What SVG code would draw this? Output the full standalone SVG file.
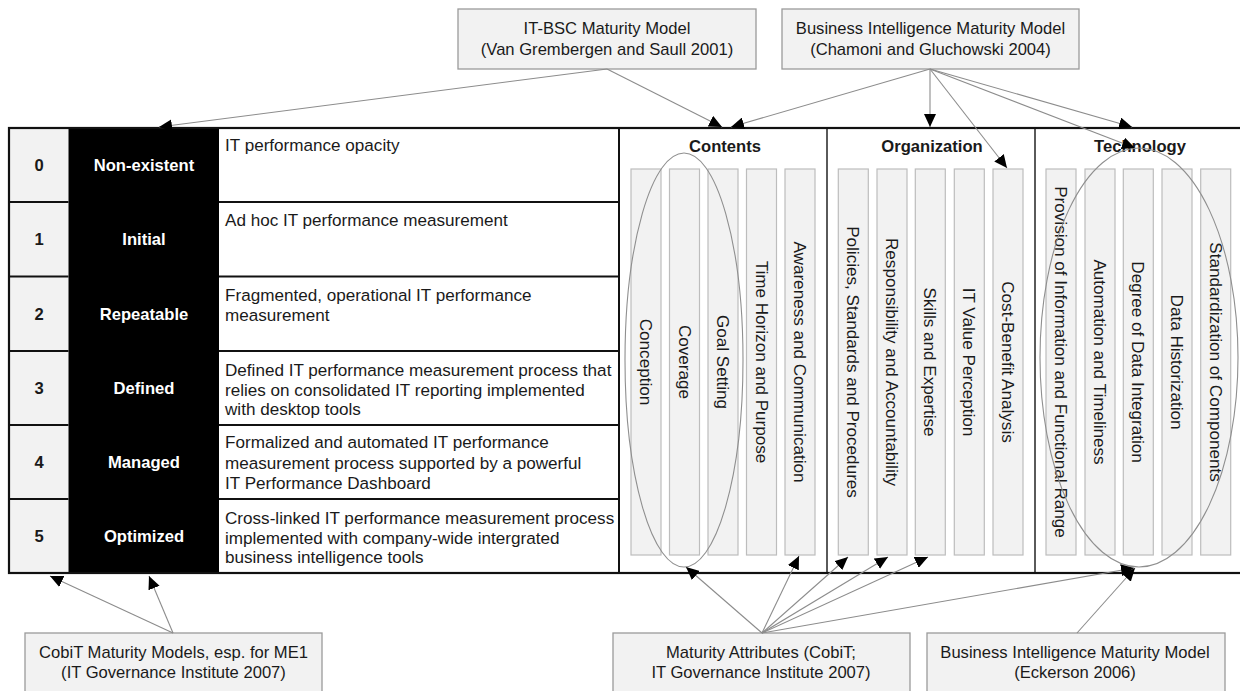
<svg xmlns="http://www.w3.org/2000/svg" width="1240" height="691" viewBox="0 0 1240 691">
<style>
text{font-family:"Liberation Sans",Arial,sans-serif;font-size:16.6px;fill:#1a1a1a}
.b{font-weight:bold}
.w{fill:#ffffff;font-weight:bold}
.c{text-anchor:middle}
.d{font-size:17.1px}
.box{fill:#f2f2f2;stroke:#9a9a9a;stroke-width:1.3}
.col{fill:#f2f2f2;stroke:#bdbdbd;stroke-width:1.2}
.ell{fill:none;stroke:#8f8f8f;stroke-width:1.1}
.rl{stroke:#111;stroke-width:1.8}
.sec{stroke:#5a5a5a;stroke-width:2}
.con line{stroke:#8c8c8c;stroke-width:1.1;marker-end:url(#ah)}
</style>
<defs>
<marker id="ah" markerUnits="userSpaceOnUse" markerWidth="14" markerHeight="12" refX="13" refY="6" orient="auto" viewBox="0 0 14 12">
<path d="M0,0 L13,6 L0,12 z" fill="#000"/>
</marker>
</defs>
<rect width="1240" height="691" fill="#ffffff"/>

<g id="maturity-table">
<rect x="9" y="128" width="1240" height="445" fill="#ffffff"/>
<rect x="9" y="128" width="59.5" height="445" fill="#f2f2f2"/>
<rect x="68.5" y="128" width="150.5" height="445" fill="#000000"/>
<line class="rl" x1="9" y1="202" x2="68.5" y2="202"/>
<line class="rl" x1="9" y1="276.5" x2="68.5" y2="276.5"/>
<line class="rl" x1="9" y1="351" x2="68.5" y2="351"/>
<line class="rl" x1="9" y1="425" x2="68.5" y2="425"/>
<line class="rl" x1="9" y1="499" x2="68.5" y2="499"/>
<line class="rl" x1="219" y1="202" x2="619" y2="202"/>
<line class="rl" x1="219" y1="276.5" x2="619" y2="276.5"/>
<line class="rl" x1="219" y1="351" x2="619" y2="351"/>
<line class="rl" x1="219" y1="425" x2="619" y2="425"/>
<line class="rl" x1="219" y1="499" x2="619" y2="499"/>
<line x1="619" y1="128" x2="619" y2="573" stroke="#111" stroke-width="2"/>
<line class="sec" x1="827" y1="128" x2="827" y2="573"/>
<line class="sec" x1="1035" y1="128" x2="1035" y2="573"/>
<rect x="9" y="128" width="1240" height="445" fill="none" stroke="#111" stroke-width="2.2"/>

<text class="b c" x="39" y="171">0</text>
<text class="b c" x="39" y="245">1</text>
<text class="b c" x="39" y="320">2</text>
<text class="b c" x="39" y="394">3</text>
<text class="b c" x="39" y="468">4</text>
<text class="b c" x="39" y="542">5</text>

<text class="w c" x="144" y="171">Non-existent</text>
<text class="w c" x="144" y="245">Initial</text>
<text class="w c" x="144" y="320">Repeatable</text>
<text class="w c" x="144" y="394">Defined</text>
<text class="w c" x="144" y="468">Managed</text>
<text class="w c" x="144" y="542">Optimized</text>

<text class="d" x="225" y="151">IT performance opacity</text>
<text class="d" x="225" y="226">Ad hoc IT performance measurement</text>
<text class="d" x="225" y="301">Fragmented, operational IT performance</text>
<text class="d" x="225" y="321">measurement</text>
<text class="d" x="225" y="376">Defined IT performance measurement process that</text>
<text class="d" x="225" y="395.5">relies on consolidated IT reporting implemented</text>
<text class="d" x="225" y="415">with desktop tools</text>
<text class="d" x="225" y="448">Formalized and automated IT performance</text>
<text class="d" x="225" y="468.5">measurement process supported by a powerful</text>
<text class="d" x="225" y="489">IT Performance Dashboard</text>
<text class="d" x="225" y="524">Cross-linked IT performance measurement process</text>
<text class="d" x="225" y="543.5">implemented with company-wide intergrated</text>
<text class="d" x="225" y="563">business intelligence tools</text>
</g>

<g id="contents">
<text class="b c" x="725" y="152" font-size="17">Contents</text>
<rect class="col" x="631" y="169" width="30" height="386"/>
<rect class="col" x="669.5" y="169" width="30" height="386"/>
<rect class="col" x="708" y="169" width="30" height="386"/>
<rect class="col" x="746.5" y="169" width="30" height="386"/>
<rect class="col" x="785" y="169" width="30" height="386"/>
<text class="c d" transform="translate(646,362) rotate(90)" y="6">Conception</text>
<text class="c d" transform="translate(684.5,362) rotate(90)" y="6">Coverage</text>
<text class="c d" transform="translate(723,362) rotate(90)" y="6">Goal Setting</text>
<text class="c d" transform="translate(761.5,362) rotate(90)" y="6">Time Horizon and Purpose</text>
<text class="c d" transform="translate(800,362) rotate(90)" y="6">Awareness and Communication</text>
<ellipse class="ell" cx="684" cy="360" rx="59" ry="207"/>
</g>

<g id="organization">
<text class="b c" x="932" y="152" font-size="17">Organization</text>
<rect class="col" x="838.3" y="169" width="30" height="386"/>
<rect class="col" x="877" y="169" width="30" height="386"/>
<rect class="col" x="915.3" y="169" width="30" height="386"/>
<rect class="col" x="954.3" y="169" width="30" height="386"/>
<rect class="col" x="993" y="169" width="30" height="386"/>
<text class="c d" transform="translate(853.3,362) rotate(90)" y="6">Policies, Standards and Procedures</text>
<text class="c d" transform="translate(892,362) rotate(90)" y="6">Responsibility and Accountability</text>
<text class="c d" transform="translate(930.3,362) rotate(90)" y="6">Skills and Expertise</text>
<text class="c d" transform="translate(969.3,362) rotate(90)" y="6">IT Value Perception</text>
<text class="c d" transform="translate(1008,362) rotate(90)" y="6">Cost-Benefit Analysis</text>
</g>

<g id="technology">
<text class="b c" x="1140" y="152" font-size="17">Technology</text>
<rect class="col" x="1046" y="169" width="30" height="386"/>
<rect class="col" x="1085" y="169" width="30" height="386"/>
<rect class="col" x="1123.3" y="169" width="30" height="386"/>
<rect class="col" x="1162" y="169" width="30" height="386"/>
<rect class="col" x="1200.7" y="169" width="30" height="386"/>
<text class="c d" transform="translate(1061,362) rotate(90)" y="6">Provision of Information and Functional Range</text>
<text class="c d" transform="translate(1100,362) rotate(90)" y="6">Automation and Timeliness</text>
<text class="c d" transform="translate(1138.3,362) rotate(90)" y="6">Degree of Data Integration</text>
<text class="c d" transform="translate(1177,362) rotate(90)" y="6">Data Historization</text>
<text class="c d" transform="translate(1215.7,362) rotate(90)" y="6">Standardization of Components</text>
<ellipse class="ell" cx="1139" cy="357.5" rx="99" ry="209.5"/>
</g>

<g id="it-bsc">
<rect class="box" x="458" y="9" width="298" height="60"/>
<text class="c" x="607" y="34">IT-BSC Maturity Model</text>
<text class="c" x="607" y="55">(Van Grembergen and Saull 2001)</text>
</g>

<g id="bi-chamoni">
<rect class="box" x="782" y="9" width="297" height="60"/>
<text class="c" x="930.5" y="34">Business Intelligence Maturity Model</text>
<text class="c" x="930.5" y="55">(Chamoni and Gluchowski 2004)</text>
</g>

<g id="cobit">
<rect class="box" x="25" y="633" width="297" height="70"/>
<text class="c" x="173.5" y="658">CobiT Maturity Models, esp. for ME1</text>
<text class="c" x="173.5" y="678">(IT Governance Institute 2007)</text>
</g>

<g id="maturity-attributes">
<rect class="box" x="613" y="633" width="297" height="70"/>
<text class="c" x="761" y="658">Maturity Attributes (CobiT;</text>
<text class="c" x="761" y="678">IT Governance Institute 2007)</text>
</g>

<g id="bi-eckerson">
<rect class="box" x="927" y="633" width="298" height="70"/>
<text class="c" x="1075" y="658">Business Intelligence Maturity Model</text>
<text class="c" x="1075" y="678">(Eckerson 2006)</text>
</g>

<g id="connectors" class="con">
<line x1="607" y1="69" x2="159" y2="127"/>
<line x1="607" y1="69" x2="722" y2="127"/>
<line x1="930" y1="69" x2="731" y2="127"/>
<line x1="930" y1="69" x2="930" y2="127"/>
<line x1="930" y1="69" x2="1007" y2="168"/>
<line x1="930" y1="69" x2="1132" y2="127"/>
<line x1="930" y1="69" x2="1135" y2="148"/>
<line x1="173" y1="633" x2="50" y2="576"/>
<line x1="173" y1="633" x2="149" y2="576"/>
<line x1="762" y1="633" x2="686" y2="567"/>
<line x1="762" y1="633" x2="799" y2="556"/>
<line x1="762" y1="633" x2="848" y2="557"/>
<line x1="762" y1="633" x2="888" y2="557"/>
<line x1="762" y1="633" x2="928" y2="557"/>
<line x1="762" y1="633" x2="1134" y2="568"/>
<line x1="1077" y1="633" x2="1135" y2="568"/>
</g>
</svg>
